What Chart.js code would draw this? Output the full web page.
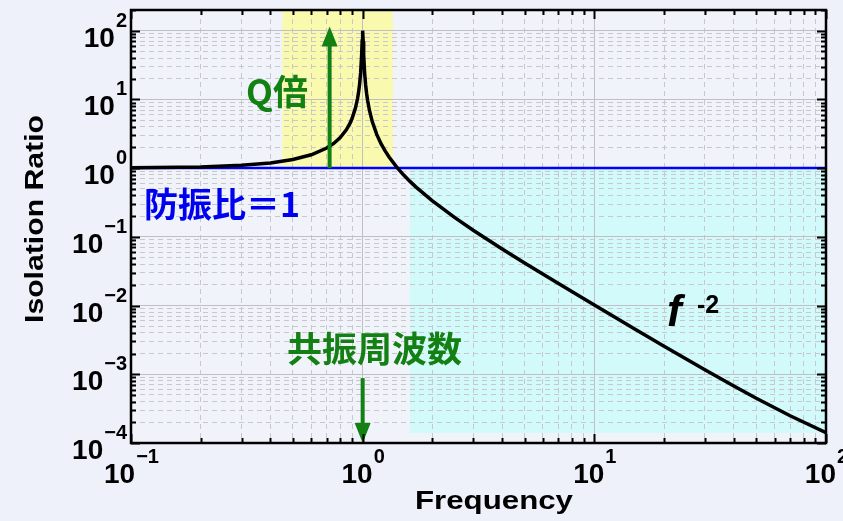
<!DOCTYPE html>
<html>
<head>
<meta charset="utf-8">
<script src="https://cdn.jsdelivr.net/npm/chart.js@4.4.1/dist/chart.umd.min.js"></script>
<style>
  html, body { margin: 0; padding: 0; background: #eef0fa; }
  #contenedor { width: 843px; height: 521px; position: relative; }
</style>
</head>
<body>
<div id="contenedor"><canvas id="graficoAislamiento"></canvas></div>
<script>
// Transmisibilidad de un oscilador amortiguado (Q = 100)
const frecuencias = [0.1, 0.2, 0.3, 0.4, 0.5, 0.6, 0.7, 0.75, 0.8, 0.85,
                     0.88, 0.9, 0.93, 0.95, 0.96, 0.97, 0.98, 0.99, 0.995, 1.0,
                     1.005, 1.01, 1.02, 1.03, 1.04, 1.05, 1.07, 1.1, 1.15, 1.2,
                     1.25, 1.3, 1.4, 1.5, 1.6, 1.7, 2, 2.5, 3, 4,
                     5, 7, 10, 15, 20, 30, 40, 50, 70, 100];
const ratios = [1.01, 1.042, 1.099, 1.19, 1.333, 1.563, 1.961, 2.286, 2.778, 3.604,
                4.43, 5.263, 7.40, 10.21, 12.66, 16.7, 24.5, 45.0, 71.0, 100,
                70.4, 44.5, 24.0, 16.2, 12.16, 9.71, 6.90, 4.76, 3.10, 2.27,
                1.778, 1.449, 1.042, 0.80, 0.641, 0.529, 0.333, 0.1905, 0.125, 0.0667,
                0.0417, 0.0209, 0.01015, 0.00451, 0.00256, 0.00116, 0.000674, 0.000447, 0.000249, 0.000141];

const lineaUnidad = 1;
const rangoX = [0.1, 100];
const rangoY = [1e-4, 200];
const exponentesX = [-1, 0, 1, 2];
const exponentesY = [-4, -3, -2, -1, 0, 1, 2];

// zonas sombreadas: resonancia (amarillo) y aislamiento (cian)
const bandaResonancia = [0.45, 1.35];
const bandaAislamiento = [1.6, 100];
const alturaAislamiento = [1.4e-4, 1];

// flechas: [frecuencia, desde, hasta]
const flechaQ = [0.72, 1, 115];
const flechaResonancia = [1, 8.8e-4, 1e-4];

const VERDE = '#128012';
const AZUL = '#0000f0';
const FUENTE_BASE = 'bold 28px "Liberation Sans", Arial, sans-serif';
const FUENTE_EXP = 'bold 20px "Liberation Sans", Arial, sans-serif';

function ticksLog(min, max) {
    const ticks = [];
    for (let e = -5; e <= 3; e++) {
        for (let s = 1; s <= 9; s++) {
            const v = parseFloat((s * Math.pow(10, e)).toPrecision(6));
            if (v >= min * 0.999 && v <= max * 1.001) ticks.push({ value: v, major: s === 1 });
        }
    }
    return ticks;
}

function potencia(ctx, exp, x, yBase, alinear) {
    const base = '10';
    const sup = exp < 0 ? '\u2212' + Math.abs(exp) : String(exp);
    ctx.font = FUENTE_BASE;
    const wb = ctx.measureText(base).width;
    ctx.font = FUENTE_EXP;
    const ws = ctx.measureText(sup).width;
    const inicio = alinear === 'center' ? x - (wb + ws) / 2 : x - (wb + ws);
    ctx.textAlign = 'left';
    ctx.textBaseline = 'alphabetic';
    ctx.font = FUENTE_BASE;
    ctx.fillText(base, inicio, yBase);
    ctx.font = FUENTE_EXP;
    ctx.fillText(sup, inicio + wb + 1, yBase - 20);
}

function textoAncho(ctx, txt, ancho) {
    const w = ctx.measureText(txt).width;
    ctx.save();
    ctx.scale(ancho / w, 1);
    ctx.textAlign = 'center';
    ctx.fillText(txt, 0, 0);
    ctx.restore();
}

function flecha(ctx, x, yDesde, yHasta) {
    const dir = yHasta < yDesde ? -1 : 1;
    const largo = 20, medio = 8;
    ctx.strokeStyle = VERDE;
    ctx.fillStyle = VERDE;
    ctx.lineWidth = 4;
    ctx.beginPath();
    ctx.moveTo(x, yDesde);
    ctx.lineTo(x, yHasta - dir * largo * 0.6);
    ctx.stroke();
    ctx.beginPath();
    ctx.moveTo(x, yHasta);
    ctx.lineTo(x - medio, yHasta - dir * largo);
    ctx.lineTo(x + medio, yHasta - dir * largo);
    ctx.closePath();
    ctx.fill();
}

const fondo = {
    id: 'fondo',
    beforeDraw(chart) {
        const { ctx, chartArea: a, scales: { x, y } } = chart;
        ctx.save();
        ctx.fillStyle = '#eef0fa';
        ctx.fillRect(0, 0, chart.width, chart.height);
        ctx.fillStyle = '#f1f3fb';
        ctx.fillRect(a.left, a.top, a.width, a.height);

        const uno = y.getPixelForValue(lineaUnidad);
        let x1 = x.getPixelForValue(bandaResonancia[0]);
        let x2 = x.getPixelForValue(bandaResonancia[1]);
        ctx.fillStyle = '#fafaae';
        ctx.fillRect(x1, a.top, x2 - x1, uno - a.top);

        x1 = x.getPixelForValue(bandaAislamiento[0]);
        x2 = x.getPixelForValue(bandaAislamiento[1]);
        const y1 = y.getPixelForValue(alturaAislamiento[1]);
        const y2 = y.getPixelForValue(alturaAislamiento[0]);
        ctx.fillStyle = '#d2fafa';
        ctx.fillRect(x1, y1, x2 - x1, y2 - y1);
        ctx.restore();
    }
};

const marco = {
    id: 'marco',
    afterDatasetsDraw(chart) {
        const { ctx, scales: { x, y } } = chart;
        ctx.save();
        flecha(ctx, x.getPixelForValue(flechaQ[0]), y.getPixelForValue(flechaQ[1]), y.getPixelForValue(flechaQ[2]));
        flecha(ctx, x.getPixelForValue(flechaResonancia[0]), y.getPixelForValue(flechaResonancia[1]), y.getPixelForValue(flechaResonancia[2]));
        ctx.restore();
    },
    afterDraw(chart) {
        const { ctx, chartArea: a, scales: { x, y } } = chart;
        ctx.save();
        // marco y marcas hacia dentro
        ctx.strokeStyle = '#000';
        ctx.lineWidth = 2.5;
        ctx.strokeRect(a.left, a.top, a.width, a.height);
        ctx.lineWidth = 2;
        ctx.beginPath();
        x.ticks.forEach(t => {
            const px = Math.round(x.getPixelForValue(t.value)) + 0.5;
            const l = t.major ? 9 : 5;
            ctx.moveTo(px, a.bottom); ctx.lineTo(px, a.bottom - l);
            ctx.moveTo(px, a.top); ctx.lineTo(px, a.top + l);
        });
        y.ticks.forEach(t => {
            const py = Math.round(y.getPixelForValue(t.value)) + 0.5;
            const l = t.major ? 9 : 5;
            ctx.moveTo(a.left, py); ctx.lineTo(a.left + l, py);
            ctx.moveTo(a.right, py); ctx.lineTo(a.right - l, py);
        });
        ctx.stroke();

        // etiquetas de los ejes
        ctx.fillStyle = '#000';
        exponentesX.forEach(e => potencia(ctx, e, x.getPixelForValue(Math.pow(10, e)), a.bottom + 40, 'center'));
        exponentesY.forEach(e => potencia(ctx, e, a.left - 5, y.getPixelForValue(Math.pow(10, e)) + 16, 'right'));

        ctx.font = 'bold 25px "Liberation Sans", Arial, sans-serif';
        ctx.textBaseline = 'alphabetic';
        ctx.save();
        ctx.translate(494, 509);
        textoAncho(ctx, 'Frequency', 158);
        ctx.restore();
        ctx.save();
        ctx.translate(43, 219);
        ctx.rotate(-Math.PI / 2);
        textoAncho(ctx, 'Isolation Ratio', 208);
        ctx.restore();

        // anotaciones
        ctx.textAlign = 'left';
        ctx.textBaseline = 'middle';
        ctx.font = 'bold 35px "Noto Sans CJK JP", sans-serif';
        ctx.fillStyle = VERDE;
        ctx.fillText('Q倍', 246, 92);
        ctx.fillText('共振周波数', 287, 349);
        ctx.fillStyle = AZUL;
        ctx.font = 'bold 34px "Noto Sans CJK JP", sans-serif';
        ctx.fillText('防振比＝1', 144, 204);

        ctx.fillStyle = '#000';
        ctx.textBaseline = 'alphabetic';
        ctx.font = 'italic bold 44px "Liberation Sans", Arial, sans-serif';
        ctx.fillText('f', 667, 326);
        ctx.font = 'bold 25px "Liberation Sans", Arial, sans-serif';
        ctx.fillText('-2', 697, 313);
        ctx.restore();
    }
};

const rejilla = {
    color: c => (c.tick && c.tick.major) ? '#c0c0c4' : '#c8c8cc',
    lineWidth: 1,
    drawTicks: false
};
const bordeRejilla = {
    display: false,
    dash: c => (c.tick && c.tick.major) ? [] : [5, 4]
};

const ctx = document.getElementById('graficoAislamiento').getContext('2d');

new Chart(ctx, {
    type: 'line',
    data: {
        datasets: [{
            data: frecuencias.map((f, i) => ({ x: f, y: ratios[i] })),
            borderColor: '#000000',
            borderWidth: 3.5,
            pointRadius: 0,
            tension: 0
        }, {
            data: rangoX.map(f => ({ x: f, y: lineaUnidad })),
            borderColor: '#0000ff',
            borderWidth: 2.5,
            pointRadius: 0
        }]
    },
    options: {
        responsive: true,
        maintainAspectRatio: false,
        animation: false,
        layout: {
            padding: { left: 131, top: 10, right: 17, bottom: 78 }
        },
        plugins: {
            legend: { display: false },
            tooltip: { enabled: false }
        },
        scales: {
            x: {
                type: 'logarithmic',
                min: rangoX[0],
                max: rangoX[1],
                ticks: { display: false },
                grid: rejilla,
                border: bordeRejilla,
                afterBuildTicks: s => { s.ticks = ticksLog(rangoX[0], rangoX[1]); }
            },
            y: {
                type: 'logarithmic',
                min: rangoY[0],
                max: rangoY[1],
                ticks: { display: false },
                grid: rejilla,
                border: bordeRejilla,
                afterBuildTicks: s => { s.ticks = ticksLog(rangoY[0], rangoY[1]); }
            }
        }
    },
    plugins: [fondo, marco]
});
</script>
</body>
</html>
